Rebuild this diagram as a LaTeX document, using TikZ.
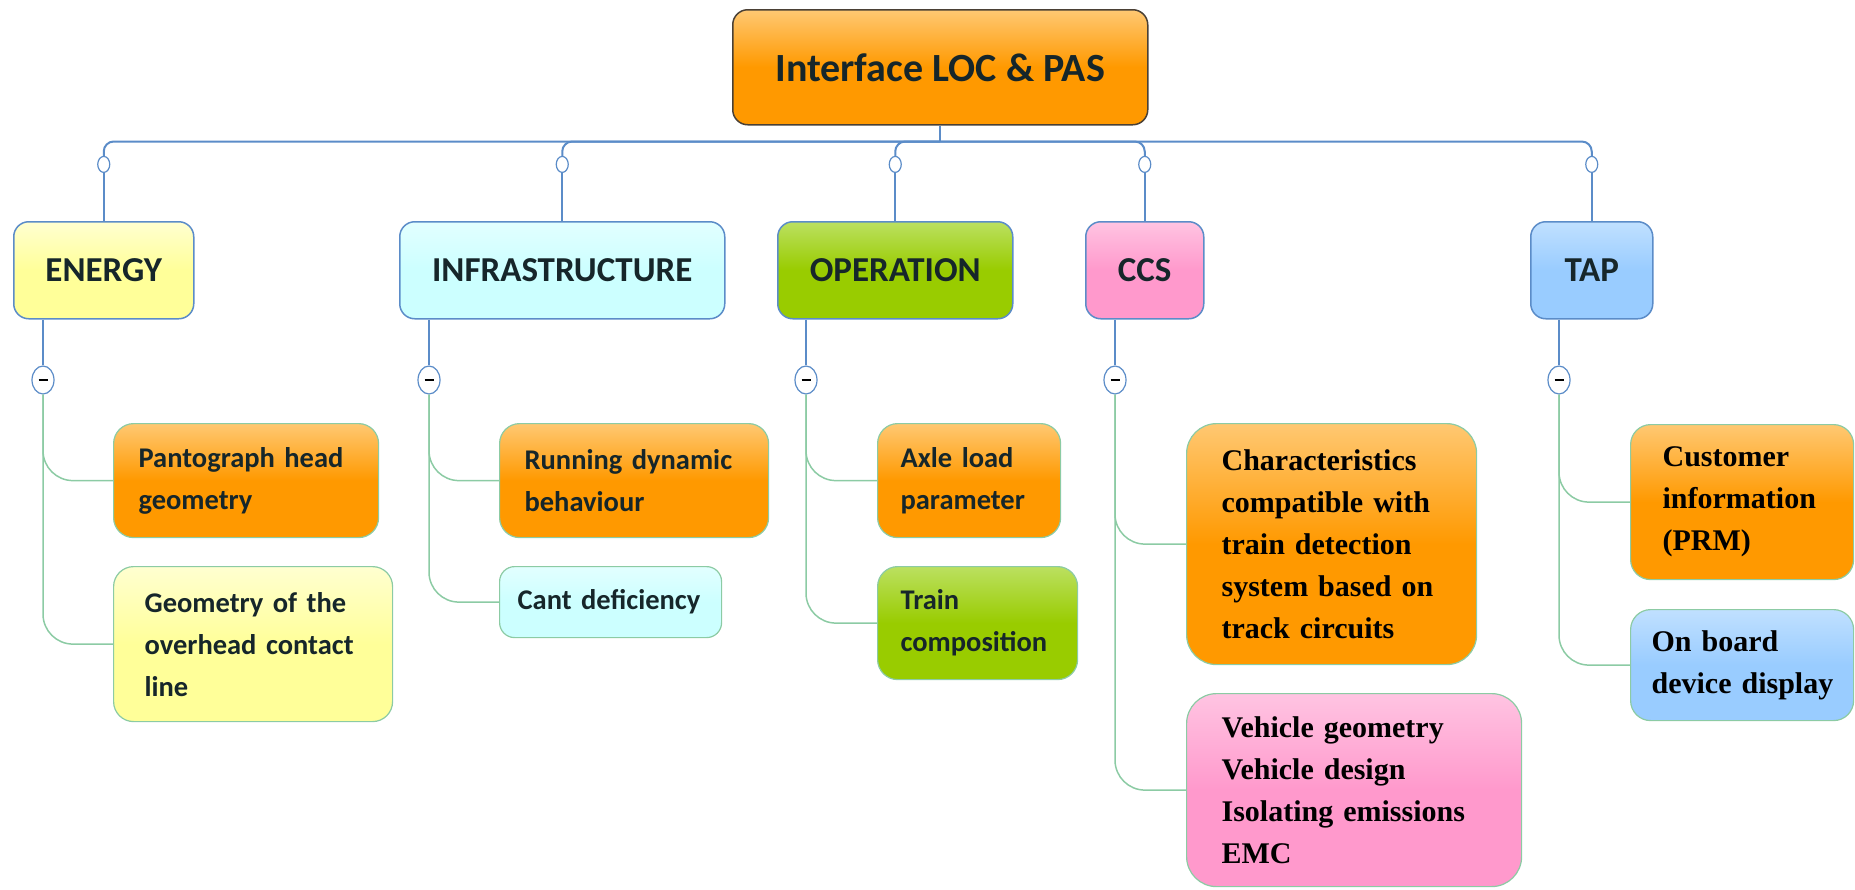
\documentclass[tikz,border=0pt]{standalone}
\usepackage{fontspec}
\setmainfont{Carlito}
\newfontfamily\tnr{Liberation Serif}
\usetikzlibrary{positioning,shapes.geometric}

\begin{document}
\begin{tikzpicture}[x=1pt, y=1pt]
  \definecolor{linkblue}{HTML}{5B8CC8}
  \definecolor{linkgreen}{HTML}{8CCBA4}
  \definecolor{rootline}{HTML}{4A4035}
  \definecolor{txt}{HTML}{16262A}
  \definecolor{orng}{HTML}{FF9900}
  \definecolor{orngtop}{HTML}{FFC872}
  \definecolor{yllw}{HTML}{FFFF99}
  \definecolor{yllwtop}{HTML}{FFFFD0}
  \definecolor{cyn}{HTML}{CCFFFF}
  \definecolor{cyntop}{HTML}{E2FFFF}
  \definecolor{grn}{HTML}{99CC00}
  \definecolor{grntop}{HTML}{BBE060}
  \definecolor{pnk}{HTML}{FF99CC}
  \definecolor{pnktop}{HTML}{FFC4E2}
  \definecolor{blu}{HTML}{99CCFF}
  \definecolor{blutop}{HTML}{C0E0FF}
  \tikzstyle{box}=[draw, rounded corners=15pt, anchor=north west, text=txt]
  \tikzstyle{root}=[box, draw=rootline, line width=1.5pt, minimum width=415pt, minimum height=115pt, font=\fontsize{40}{48}\selectfont\bfseries]
  \tikzstyle{topic}=[box, draw=linkblue, line width=1.5pt, minimum height=97pt, font=\fontsize{35}{42}\selectfont\bfseries]
  \tikzstyle{leaf}=[box, draw=linkgreen, line width=1.2pt, rounded corners=20pt, align=left, font=\fontsize{28.5}{42}\selectfont\bfseries]
  \tikzstyle{tleaf}=[leaf, text=black, font=\fontsize{30}{42}\selectfont\tnr\bfseries]
  \tikzstyle{orangefill}=[top color=orngtop, bottom color=orng, middle color=orng]
  \tikzstyle{yellowfill}=[top color=yllwtop, bottom color=yllw, middle color=yllw]
  \tikzstyle{cyanfill}=[top color=cyntop, bottom color=cyn, middle color=cyn]
  \tikzstyle{greenfill}=[top color=grntop, bottom color=grn, middle color=grn]
  \tikzstyle{pinkfill}=[top color=pnktop, bottom color=pnk, middle color=pnk]
  \tikzstyle{bluefill}=[top color=blutop, bottom color=blu, middle color=blu]
  \tikzstyle{knob}=[ellipse, draw=linkblue, fill=white, line width=1.2pt, minimum width=12pt, minimum height=16pt, inner sep=0pt]
  \tikzstyle{minus}=[ellipse, draw=linkblue, fill=white, line width=1.2pt, minimum width=22pt, minimum height=28pt, inner sep=0pt]
  \tikzstyle{bline}=[draw=linkblue, line width=2pt]
  \tikzstyle{gline}=[draw=linkgreen, line width=1.5pt, rounded corners=30pt]

  \useasboundingbox (0,0) rectangle (1855,-889);

  \node[root, orangefill] (root) at (732,-9) {Interface LOC \& PAS};

  \node[topic, yellowfill, minimum width=180pt] (energy) at (13,-221) {ENERGY};
  \node[topic, cyanfill, minimum width=325pt] (infra) at (399,-221) {INFRASTRUCTURE};
  \node[topic, greenfill, minimum width=235pt] (oper) at (777,-221) {OPERATION};
  \node[topic, pinkfill, minimum width=118pt] (ccs) at (1085,-221) {CCS};
  \node[topic, bluefill, minimum width=122pt] (tap) at (1530,-221) {TAP};

  \node[knob, above=48pt of energy] (eknob) {};
  \node[knob, above=48pt of infra] (iknob) {};
  \node[knob, above=48pt of oper] (oknob) {};
  \node[knob, above=48pt of ccs] (cknob) {};
  \node[knob, above=48pt of tap] (tknob) {};

  \node[minus] (eminus) at (43,-380) {\rule{9pt}{2.5pt}};
  \node[minus] (iminus) at (429,-380) {\rule{9pt}{2.5pt}};
  \node[minus] (ominus) at (806,-380) {\rule{9pt}{2.5pt}};
  \node[minus] (cminus) at (1115,-380) {\rule{9pt}{2.5pt}};
  \node[minus] (tminus) at (1559,-380) {\rule{9pt}{2.5pt}};

  \node[leaf, orangefill, text width=215pt, inner xsep=25pt, minimum height=114pt] (e1) at (113,-423) {Pantograph head\\geometry};
  \node[leaf, yellowfill, text width=217pt, inner xsep=31pt, minimum height=155pt] (e2) at (113,-566) {Geometry of the\\overhead contact\\line};
  \node[leaf, orangefill, text width=219pt, inner xsep=25pt, minimum height=114pt] (i1) at (499,-423) {Running dynamic\\behaviour};
  \node[leaf, cyanfill, text width=186pt, inner xsep=18pt, minimum height=71pt, rounded corners=15pt] (i2) at (499,-566) {Cant deficiency};
  \node[leaf, orangefill, text width=137pt, inner xsep=23pt, minimum height=114pt] (o1) at (877,-423) {Axle load\\parameter};
  \node[leaf, greenfill, text width=154pt, inner xsep=23pt, minimum height=113pt] (o2) at (877,-566) {Train\\composition};
  \node[tleaf, orangefill, text width=220pt, inner xsep=35pt, minimum height=241pt, rounded corners=30pt] (c1) at (1186,-423) {Characteristics\\compatible with\\train detection\\system based on\\track circuits};
  \node[tleaf, pinkfill, text width=265pt, inner xsep=35pt, minimum height=193pt, rounded corners=30pt] (c2) at (1186,-693) {Vehicle geometry\\Vehicle design\\Isolating emissions\\EMC};
  \node[tleaf, orangefill, text width=159pt, inner xsep=32pt, minimum height=155pt] (t1) at (1630,-424) {Customer\\information\\(PRM)};
  \node[tleaf, bluefill, text width=181pt, inner xsep=21pt, minimum height=111pt] (t2) at (1630,-609) {On board\\\mbox{device display}};

  \draw[bline] (root.south) -- ++(0,-16) coordinate (hub);
  \draw[bline, rounded corners=10pt] (eknob.north) |- (hub) -| (tknob.north);
  \draw[bline, rounded corners=10pt] (iknob.north) |- (hub);
  \draw[bline, rounded corners=10pt] (oknob.north) |- (hub);
  \draw[bline, rounded corners=10pt] (cknob.north) |- (hub);

  \draw[bline] (eknob) -- (energy);
  \draw[bline] (iknob) -- (infra);
  \draw[bline] (oknob) -- (oper);
  \draw[bline] (cknob) -- (ccs);
  \draw[bline] (tknob) -- (tap);

  \draw[bline] (eminus |- energy.south) -- (eminus);
  \draw[bline] (iminus |- infra.south) -- (iminus);
  \draw[bline] (ominus |- oper.south) -- (ominus);
  \draw[bline] (cminus |- ccs.south) -- (cminus);
  \draw[bline] (tminus |- tap.south) -- (tminus);

  \draw[gline] (eminus) |- (e1);
  \draw[gline] (eminus) |- (e2);
  \draw[gline] (iminus) |- (i1);
  \draw[gline] (iminus) |- (i2);
  \draw[gline] (ominus) |- (o1);
  \draw[gline] (ominus) |- (o2);
  \draw[gline] (cminus) |- (c1);
  \draw[gline] (cminus) |- (c2);
  \draw[gline] (tminus) |- (t1);
  \draw[gline] (tminus) |- (t2);
\end{tikzpicture}
\end{document}
